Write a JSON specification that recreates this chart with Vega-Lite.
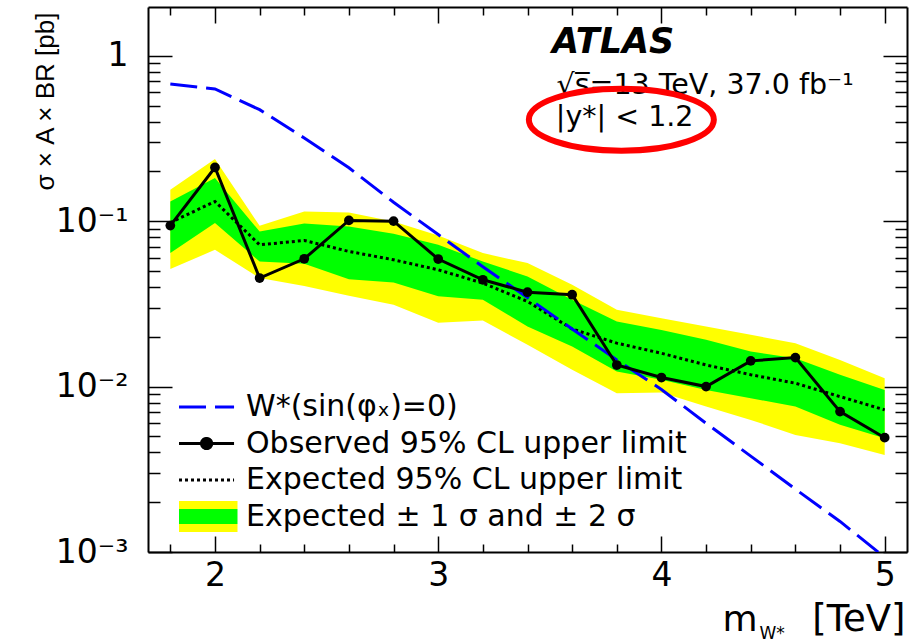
{
  "$schema": "https://vega.github.io/schema/vega-lite/v6.json",
  "width": 759,
  "height": 545,
  "autosize": {"type": "none"},
  "padding": {"left": 148, "top": 7, "right": 6, "bottom": 91},
  "background": "white",
  "config": {
    "font": "DejaVu Sans",
    "view": {"stroke": null},
    "axis": {
      "grid": false,
      "domainColor": "#000000",
      "domainWidth": 2,
      "tickColor": "#000000",
      "tickWidth": 1.5,
      "labelColor": "#000000",
      "titleColor": "#000000",
      "labelFont": "DejaVu Sans",
      "titleFont": "DejaVu Sans",
      "titleFontWeight": "normal",
      "zindex": 1
    }
  },
  "datasets": {
    "limits": [
      {"m": 1.8, "obs": 0.094, "exp": 0.098, "m2": 0.0513, "m1": 0.0641, "p1": 0.1315, "p2": 0.155, "theory": 0.675},
      {"m": 2.0, "obs": 0.211, "exp": 0.1315, "m2": 0.0671, "m1": 0.0974, "p1": 0.1823, "p2": 0.2375, "theory": 0.63},
      {"m": 2.2, "obs": 0.0453, "exp": 0.0719, "m2": 0.0453, "m1": 0.057, "p1": 0.0866, "p2": 0.0937, "theory": 0.472},
      {"m": 2.4, "obs": 0.0592, "exp": 0.0764, "m2": 0.0406, "m1": 0.0553, "p1": 0.0968, "p2": 0.1145, "theory": 0.318},
      {"m": 2.6, "obs": 0.101, "exp": 0.0656, "m2": 0.0354, "m1": 0.0446, "p1": 0.0929, "p2": 0.1129, "theory": 0.21},
      {"m": 2.8, "obs": 0.1, "exp": 0.0584, "m2": 0.0312, "m1": 0.0426, "p1": 0.0839, "p2": 0.0995, "theory": 0.13},
      {"m": 3.0, "obs": 0.059, "exp": 0.0508, "m2": 0.0243, "m1": 0.0352, "p1": 0.0719, "p2": 0.0818, "theory": 0.083},
      {"m": 3.2, "obs": 0.0442, "exp": 0.0422, "m2": 0.0251, "m1": 0.0335, "p1": 0.057, "p2": 0.0641, "theory": 0.053},
      {"m": 3.4, "obs": 0.0372, "exp": 0.0327, "m2": 0.01788, "m1": 0.0231, "p1": 0.0463, "p2": 0.0558, "theory": 0.0345},
      {"m": 3.6, "obs": 0.0359, "exp": 0.0223, "m2": 0.01262, "m1": 0.01746, "p1": 0.0335, "p2": 0.0412, "theory": 0.0223},
      {"m": 3.8, "obs": 0.0135, "exp": 0.0183, "m2": 0.00912, "m1": 0.01233, "p1": 0.0247, "p2": 0.0291, "theory": 0.0145},
      {"m": 4.0, "obs": 0.01134, "exp": 0.0159, "m2": 0.0092, "m1": 0.01098, "p1": 0.022, "p2": 0.0259, "theory": 0.0096},
      {"m": 4.2, "obs": 0.01, "exp": 0.0135, "m2": 0.00757, "m1": 0.00955, "p1": 0.01917, "p2": 0.0231, "theory": 0.006},
      {"m": 4.4, "obs": 0.0143, "exp": 0.0118, "m2": 0.00629, "m1": 0.0085, "p1": 0.01628, "p2": 0.02055, "theory": 0.0038},
      {"m": 4.6, "obs": 0.01497, "exp": 0.01048, "m2": 0.0051, "m1": 0.00757, "p1": 0.01485, "p2": 0.0183, "theory": 0.0024},
      {"m": 4.8, "obs": 0.00706, "exp": 0.0087, "m2": 0.00455, "m1": 0.00587, "p1": 0.0118, "p2": 0.0145, "theory": 0.00153},
      {"m": 5.0, "obs": 0.00491, "exp": 0.00723, "m2": 0.00386, "m1": 0.00487, "p1": 0.00955, "p2": 0.01124, "theory": 0.00093}
    ]
  },
  "data": {"name": "limits"},
  "resolve": {"axis": {"x": "independent", "y": "independent"}},
  "layer": [
    {
      "description": "Expected +-2 sigma band; carries the labelled bottom and left axes with the major ticks",
      "mark": {"type": "area", "color": "#ffff00", "opacity": 1},
      "encoding": {
        "x": {
          "field": "m", "type": "quantitative",
          "scale": {"domain": [1.7, 5.1], "nice": false, "zero": false},
          "axis": {
            "orient": "bottom",
            "values": [2, 3, 4, 5],
            "format": "d",
            "labelFontSize": 33,
            "labelPadding": 23,
            "labelFlush": false,
            "labelOverlap": false,
            "tickSize": -16,
            "title": "m",
            "titleFontSize": 36,
            "titleX": 574,
            "titleY": 78,
            "titleAlign": "left",
            "titleBaseline": "alphabetic"
          }
        },
        "y": {
          "field": "p2", "type": "quantitative",
          "scale": {"type": "log", "domain": [0.001, 1.97], "nice": false},
          "axis": {
            "orient": "left",
            "values": [0.001, 0.01, 0.1, 1],
            "labelExpr": "abs(datum.value - 1) < 1e-9 ? '1' : abs(datum.value - 0.1) < 1e-9 ? '10⁻¹' : abs(datum.value - 0.01) < 1e-9 ? '10⁻²' : '10⁻³'",
            "labelFontSize": 33,
            "labelPadding": 44,
            "labelOverlap": false,
            "labelFlush": false,
            "tickSize": -24,
            "title": "σ × A × BR [pb]",
            "titleFont": "Liberation Sans",
            "titleFontSize": 26,
            "titleAngle": -90,
            "titleX": -95,
            "titleY": 5,
            "titleAlign": "right",
            "titleBaseline": "alphabetic"
          }
        },
        "y2": {"field": "m2"}
      }
    },
    {
      "description": "Expected +-1 sigma band; carries the top and right major ticks",
      "mark": {"type": "area", "color": "#00ff00", "opacity": 1},
      "encoding": {
        "x": {
          "field": "m", "type": "quantitative",
          "axis": {"orient": "top", "values": [2, 3, 4, 5], "labels": false, "tickSize": -16, "title": null}
        },
        "y": {
          "field": "p1", "type": "quantitative",
          "axis": {"orient": "right", "values": [0.001, 0.01, 0.1, 1], "labels": false, "tickSize": -24, "title": null}
        },
        "y2": {"field": "m1"}
      }
    },
    {
      "description": "Expected limit (dotted); carries the bottom and left minor ticks and the unit part of the x title",
      "mark": {"type": "line", "color": "#000000", "strokeWidth": 3, "strokeDash": [3, 3]},
      "encoding": {
        "x": {
          "field": "m", "type": "quantitative",
          "axis": {
            "orient": "bottom",
            "values": [1.8, 2.2, 2.4, 2.6, 2.8, 3.2, 3.4, 3.6, 3.8, 4.2, 4.4, 4.6, 4.8],
            "domain": false, "labels": false, "tickSize": -8,
            "title": "[TeV]", "titleFontSize": 37,
            "titleX": 757, "titleY": 78, "titleAlign": "right", "titleBaseline": "alphabetic"
          }
        },
        "y": {
          "field": "exp", "type": "quantitative",
          "axis": {
            "orient": "left",
            "values": [0.002, 0.003, 0.004, 0.005, 0.006, 0.007, 0.008, 0.009, 0.02, 0.03, 0.04, 0.05, 0.06, 0.07, 0.08, 0.09, 0.2, 0.3, 0.4, 0.5, 0.6, 0.7, 0.8, 0.9],
            "domain": false, "labels": false, "tickSize": -12, "title": null
          }
        }
      }
    },
    {
      "description": "W* theory curve (dashed); carries the legend and the x-title subscript",
      "mark": {"type": "line", "strokeWidth": 3, "strokeDash": [27, 9], "clip": true},
      "encoding": {
        "x": {
          "field": "m", "type": "quantitative",
          "axis": {
            "orient": "bottom", "domain": false, "ticks": false, "labels": false,
            "title": "W*", "titleFontSize": 17,
            "titleX": 611, "titleY": 86, "titleAlign": "left", "titleBaseline": "alphabetic"
          }
        },
        "y": {"field": "theory", "type": "quantitative", "axis": null},
        "color": {
          "datum": "th", "type": "nominal",
          "scale": {"domain": ["th", "obs", "exp", "band", "band2"], "range": ["#0000ff", "#000000", "#000000", "#00ff00", "#ffff00"]},
          "legend": {
            "orient": "none",
            "legendX": 29.5,
            "legendY": 383.5,
            "direction": "vertical",
            "title": null,
            "values": ["th", "obs", "exp", "band"],
            "padding": 0,
            "rowPadding": 4.5,
            "labelFont": "DejaVu Sans",
            "labelFontSize": 30,
            "labelColor": "#000000",
            "labelOffset": 35.5,
            "labelLimit": 700,
            "labelExpr": "datum.value == 'th' ? 'W*(sin(φₓ)=0)' : datum.value == 'obs' ? 'Observed 95% CL upper limit' : datum.value == 'exp' ? 'Expected 95% CL upper limit' : 'Expected ± 1 σ and ± 2 σ'",
            "symbolSize": 900,
            "symbolStrokeWidth": 3,
            "encode": {
              "symbols": {
                "update": {
                  "size": {"value": 900},
                  "strokeWidth": {"value": 3},
                  "opacity": {"value": 1},
                  "strokeOpacity": {"signal": "datum.value == 'band' ? 0 : 1"},
                  "shape": {"signal": "datum.value == 'band' ? 'M-1,-1.03H2.9V1.03H-1Z' : datum.value == 'obs' ? 'M-1,0H2.67M0.5,0a0.34,0.34 0 1,0 0.68,0a0.34,0.34 0 1,0 -0.68,0Z' : 'M-1,0H2.67'"},
                  "stroke": {"signal": "datum.value == 'th' ? '#0000ff' : datum.value == 'band' ? 'transparent' : '#000000'"},
                  "strokeDash": {"signal": "datum.value == 'th' ? [27, 9] : datum.value == 'exp' ? [3, 3] : [1, 0]"},
                  "fill": {"signal": "datum.value == 'band' ? {gradient: 'linear', x1: 0, y1: 0, x2: 0, y2: 1, stops: [{offset: 0, color: '#ffff00'}, {offset: 0.27, color: '#ffff00'}, {offset: 0.27, color: '#00ff00'}, {offset: 0.73, color: '#00ff00'}, {offset: 0.73, color: '#ffff00'}, {offset: 1, color: '#ffff00'}]} : datum.value == 'obs' ? '#000000' : 'transparent'"}
                }
              }
            }
          }
        }
      }
    },
    {
      "description": "Observed limit line; carries the top and right minor ticks",
      "mark": {"type": "line", "color": "#000000", "strokeWidth": 3},
      "encoding": {
        "x": {
          "field": "m", "type": "quantitative",
          "axis": {
            "orient": "top",
            "values": [1.8, 2.2, 2.4, 2.6, 2.8, 3.2, 3.4, 3.6, 3.8, 4.2, 4.4, 4.6, 4.8],
            "domain": false, "labels": false, "tickSize": -8, "title": null
          }
        },
        "y": {
          "field": "obs", "type": "quantitative",
          "axis": {
            "orient": "right",
            "values": [0.002, 0.003, 0.004, 0.005, 0.006, 0.007, 0.008, 0.009, 0.02, 0.03, 0.04, 0.05, 0.06, 0.07, 0.08, 0.09, 0.2, 0.3, 0.4, 0.5, 0.6, 0.7, 0.8, 0.9],
            "domain": false, "labels": false, "tickSize": -12, "title": null
          }
        }
      }
    },
    {
      "description": "Observed limit markers",
      "mark": {"type": "point", "filled": true, "color": "#000000", "size": 95, "opacity": 1},
      "encoding": {
        "x": {"field": "m", "type": "quantitative", "axis": null},
        "y": {"field": "obs", "type": "quantitative", "axis": null}
      }
    },
    {
      "description": "Experiment label",
      "data": {"values": [{"label": "ATLAS"}]},
      "mark": {"type": "text", "font": "DejaVu Sans", "fontWeight": "bold", "fontStyle": "italic", "fontSize": 35, "align": "left", "baseline": "alphabetic", "color": "#000000"},
      "encoding": {
        "x": {"datum": 3.51, "type": "quantitative", "axis": null},
        "y": {"datum": 1.04, "type": "quantitative", "axis": null},
        "text": {"field": "label"}
      }
    },
    {
      "description": "Energy and luminosity",
      "data": {"values": [{"label": "√s̅=13 TeV, 37.0 fb⁻¹"}]},
      "mark": {"type": "text", "font": "DejaVu Sans", "fontSize": 28.5, "align": "left", "baseline": "alphabetic", "color": "#000000"},
      "encoding": {
        "x": {"datum": 3.53, "type": "quantitative", "axis": null},
        "y": {"datum": 0.59, "type": "quantitative", "axis": null},
        "text": {"field": "label"}
      }
    },
    {
      "description": "Rapidity selection",
      "data": {"values": [{"label": "|y*| < 1.2"}]},
      "mark": {"type": "text", "font": "DejaVu Sans", "fontSize": 28.5, "align": "left", "baseline": "alphabetic", "color": "#000000"},
      "encoding": {
        "x": {"datum": 3.527, "type": "quantitative", "axis": null},
        "y": {"datum": 0.378, "type": "quantitative", "axis": null},
        "text": {"field": "label"}
      }
    },
    {
      "description": "Red ellipse highlighting the rapidity selection",
      "data": {"values": [{"note": "highlight"}]},
      "mark": {"type": "point", "filled": false, "stroke": "#ff0000", "strokeWidth": 6, "opacity": 1, "size": 34225, "shape": "M-1,0A1,0.335,0,1,0,1,0A1,0.335,0,1,0,-1,0Z"},
      "encoding": {
        "x": {"datum": 3.8204, "type": "quantitative", "axis": null},
        "y": {"datum": 0.4105, "type": "quantitative", "axis": null}
      }
    }
  ]
}
